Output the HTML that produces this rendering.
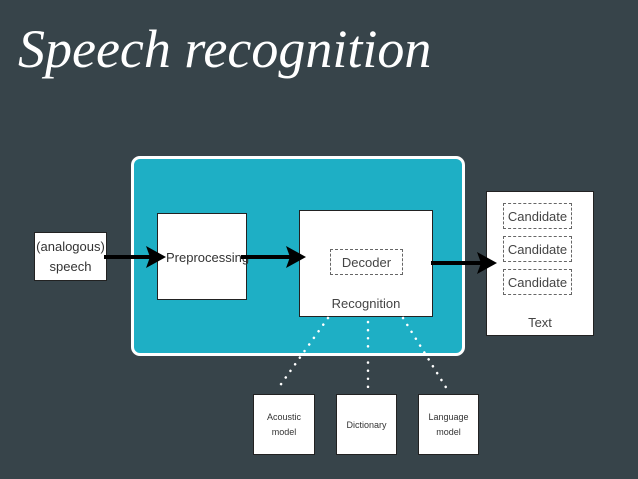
<!DOCTYPE html>
<html><head><style>
body{margin:0;width:638px;height:479px;background:#37444a;position:relative;overflow:hidden;font-family:"Liberation Sans",sans-serif;}
.b{position:absolute;background:#fff;border:1px solid #222;box-sizing:border-box;color:#333;display:flex;align-items:center;justify-content:center;text-align:center;}
.d{position:absolute;border:1px dashed #666;box-sizing:border-box;display:flex;align-items:center;justify-content:center;font-size:13px;color:#444;}
.t{position:absolute;font-size:13px;color:#444;}
</style></head><body>
<div style="position:absolute;left:18px;top:18px;font-family:'Liberation Serif',serif;font-style:italic;font-size:54px;color:#fff;letter-spacing:0px;">Speech recognition</div>
<div style="position:absolute;left:131px;top:156px;width:334px;height:200px;background:#1eafc5;border:3px solid #fff;border-radius:9px;box-sizing:border-box;"></div>
<div class="b" style="left:34px;top:232px;width:73px;height:49px;font-size:13px;line-height:20px;">(analogous)<br>speech</div>
<div class="b" style="left:157px;top:213px;width:90px;height:87px;font-size:13px;justify-content:flex-start;align-items:flex-start;padding-top:36px;padding-left:8px;">Preprocessing</div>
<div class="b" style="left:299px;top:210px;width:134px;height:107px;"></div>
<div class="d" style="left:330px;top:249px;width:73px;height:26px;">Decoder</div>
<div class="t" style="left:299px;top:296px;width:134px;text-align:center;">Recognition</div>
<div class="b" style="left:486px;top:191px;width:108px;height:145px;"></div>
<div class="d" style="left:503px;top:203px;width:69px;height:26px;">Candidate</div>
<div class="d" style="left:503px;top:236px;width:69px;height:26px;">Candidate</div>
<div class="d" style="left:503px;top:269px;width:69px;height:26px;">Candidate</div>
<div class="t" style="left:486px;top:315px;width:108px;text-align:center;">Text</div>
<div class="b" style="left:253px;top:394px;width:62px;height:61px;font-size:9px;line-height:15px;">Acoustic<br>model</div>
<div class="b" style="left:336px;top:394px;width:61px;height:61px;font-size:9px;">Dictionary</div>
<div class="b" style="left:418px;top:394px;width:61px;height:61px;font-size:9px;line-height:15px;">Language<br>model</div>
<svg width="638" height="479" style="position:absolute;left:0;top:0">
<g stroke="#000" stroke-width="4"><line x1="104" y1="257" x2="152" y2="257"/><line x1="241" y1="257" x2="293" y2="257"/><line x1="431" y1="263" x2="484" y2="263"/></g>
<g fill="#000"><polygon points="146,246 166,257 146,268 150,257"/><polygon points="286,246 306,257 286,268 290,257"/><polygon points="477,252 497,263 477,274 481,263"/></g>
<g stroke="#fff" stroke-width="2.5" stroke-dasharray="0.1 8" stroke-linecap="round"><line x1="328" y1="318" x2="279" y2="387"/><line x1="368" y1="322" x2="368" y2="390"/><line x1="403" y1="318" x2="447" y2="389"/></g>
</svg>
</body></html>
